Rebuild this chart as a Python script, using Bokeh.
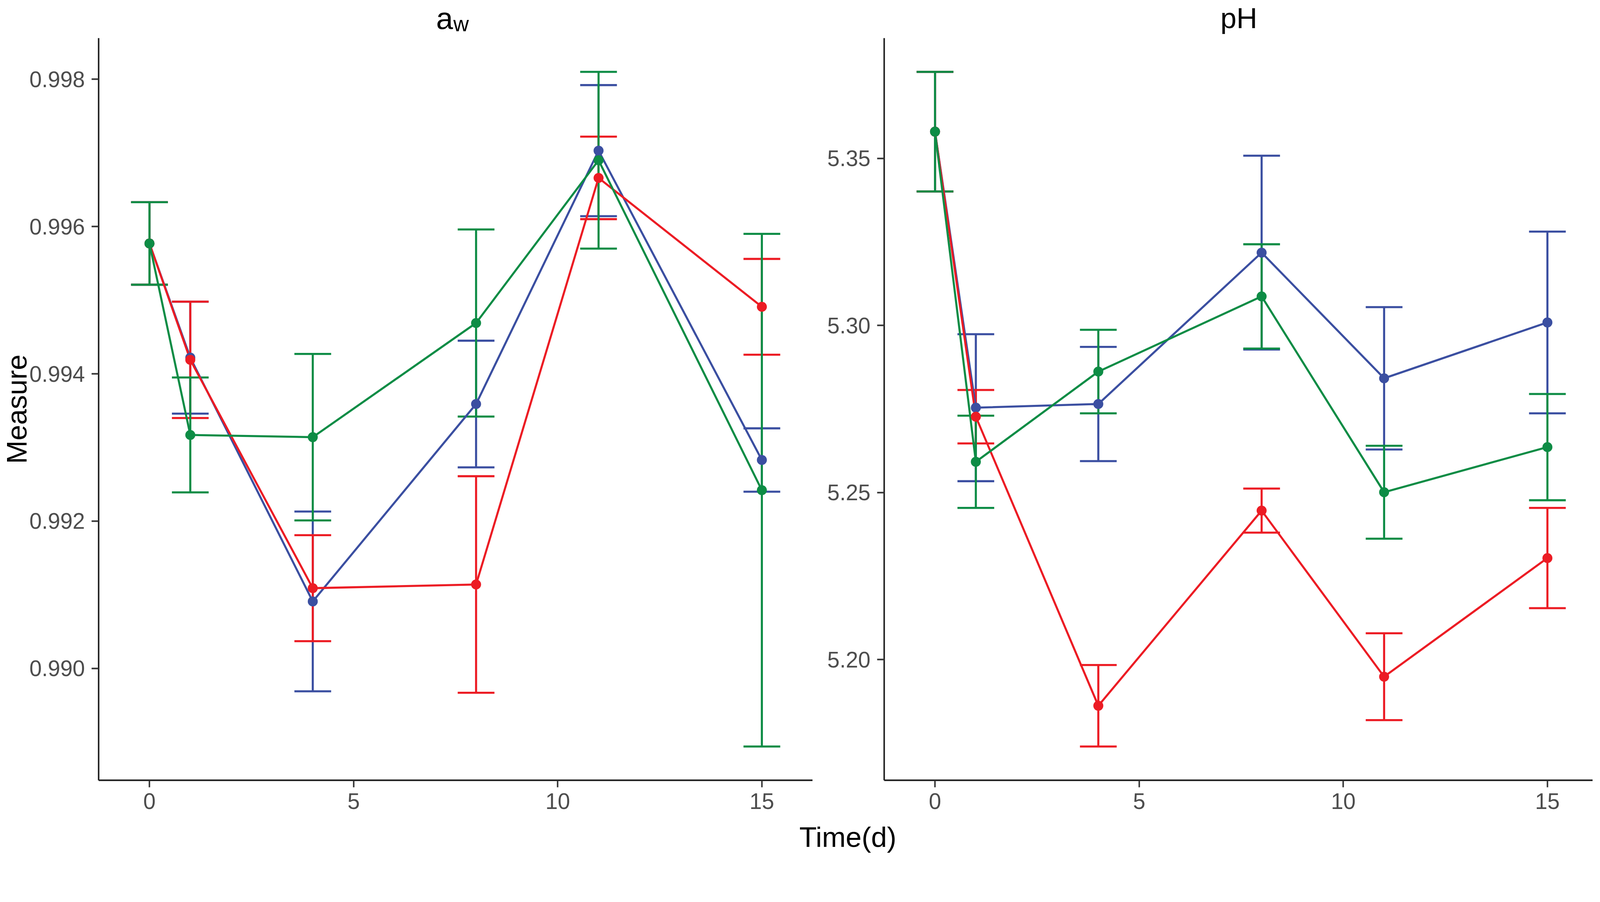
from bokeh.plotting import figure
from bokeh.models import Range1d, FixedTicker, PrintfTickFormatter
from bokeh.core.properties import value
from bokeh.layouts import row, column
from bokeh.embed import file_html
from bokeh.resources import INLINE

# ---------------- data ----------------
time_d = [0, 1, 4, 8, 11, 15]

aw_blue_mean = [0.99577, 0.99422, 0.99091, 0.99359, 0.99703, 0.99283]
aw_blue_sd = [0.00056, 0.00076, 0.00122, 0.00086, 0.00089, 0.00043]
aw_red_mean = [0.99577, 0.99419, 0.99109, 0.99114, 0.99666, 0.99491]
aw_red_sd = [0.00056, 0.00079, 0.00072, 0.00147, 0.00056, 0.00065]
aw_green_mean = [0.99577, 0.99317, 0.99314, 0.99469, 0.99690, 0.99242]
aw_green_sd = [0.00056, 0.00078, 0.00113, 0.00127, 0.00120, 0.00348]

ph_blue_mean = [5.3580, 5.2754, 5.2765, 5.3218, 5.2842, 5.3009]
ph_blue_sd = [0.0179, 0.0220, 0.0171, 0.0290, 0.0213, 0.0272]
ph_red_mean = [5.3580, 5.2727, 5.1862, 5.2446, 5.1949, 5.2304]
ph_red_sd = [0.0179, 0.0080, 0.0122, 0.0066, 0.0130, 0.0150]
ph_green_mean = [5.3580, 5.2592, 5.2862, 5.3087, 5.2501, 5.2636]
ph_green_sd = [0.0179, 0.0138, 0.0125, 0.0156, 0.0139, 0.0159]

x_ticks = [0, 5, 10, 15]
aw_ticks = [0.990, 0.992, 0.994, 0.996, 0.998]
ph_ticks = [5.20, 5.25, 5.30, 5.35]

x_label = "Time(d)"
y_label = "Measure"

# ---------------- style ----------------
S = 0.948  # global scale of the layout


def px(v):
    return int(round(v * S))


def fs(v):
    return "%.1fpx" % (v * S)


COLORS = {"blue": "#3B4FA1", "red": "#EC1C24", "green": "#0D8C45"}
FONT = "Liberation Sans"
CAP = 0.45          # half width of errorbar caps (ggplot width 0.9)
LW = 5.6 * S
PT = 27 * S

FRAME_W = px(1928)
FRAME_H = px(2003)
LEFT_B = px(266)
GAP_B = px(193)
TOP_B = px(102)
BOT_B = 98
RIGHT_FRAME_W = px(1914)
XLAB_H = 110

# x range like ggplot (5% expansion incl. errorbar widths)
xmin, xmax = min(time_d) - CAP, max(time_d) + CAP
xpad = 0.05 * (xmax - xmin)
x0, x1 = xmin - xpad, xmax + xpad


def yrange(series):
    lo = min(m - s for ms, ss in series for m, s in zip(ms, ss))
    hi = max(m + s for ms, ss in series for m, s in zip(ms, ss))
    pad = 0.05 * (hi - lo)
    return lo - pad, hi + pad


def style_axes(p, yticks, yfmt):
    p.xaxis.ticker = FixedTicker(ticks=x_ticks)
    p.yaxis.ticker = FixedTicker(ticks=yticks)
    p.yaxis.formatter = PrintfTickFormatter(format=yfmt)
    for ax in (p.xaxis[0], p.yaxis[0]):
        ax.axis_line_color = "#1A1A1A"
        ax.axis_line_width = 4 * S
        ax.major_tick_line_color = "#333333"
        ax.major_tick_line_width = 4 * S
        ax.major_tick_out = px(19)
        ax.major_tick_in = 0
        ax.minor_tick_line_color = None
        ax.major_label_text_font = FONT
        ax.major_label_text_font_size = fs(60)
        ax.major_label_text_color = "#4D4D4D"
    p.xaxis.major_label_standoff = px(16)
    p.yaxis.major_label_standoff = px(18)
    p.xgrid.grid_line_color = None
    p.ygrid.grid_line_color = None
    p.outline_line_color = None


def draw_series(p, groups):
    for name, means, sds in groups:
        c = COLORS[name]
        lo = [m - s for m, s in zip(means, sds)]
        hi = [m + s for m, s in zip(means, sds)]
        p.segment(x0=time_d, y0=lo, x1=time_d, y1=hi, line_color=c, line_width=LW)
        p.segment(x0=[t - CAP for t in time_d], y0=hi, x1=[t + CAP for t in time_d], y1=hi,
                  line_color=c, line_width=LW)
        p.segment(x0=[t - CAP for t in time_d], y0=lo, x1=[t + CAP for t in time_d], y1=lo,
                  line_color=c, line_width=LW)
    for name, means, sds in groups:
        p.line(time_d, means, line_color=COLORS[name], line_width=LW)
    for name, means, sds in groups:
        p.scatter(time_d, means, size=PT, marker="circle", fill_color=COLORS[name],
                  line_color=None)


def blank(w, h):
    f = figure(width=w, height=h, x_range=Range1d(0, w), y_range=Range1d(0, h),
               title=None, min_border=0, min_border_left=0, min_border_right=0,
               min_border_top=0, min_border_bottom=0,
               toolbar_location=None, output_backend="svg",
               x_axis_location=None, y_axis_location=None)
    f.xgrid.grid_line_color = None
    f.ygrid.grid_line_color = None
    f.outline_line_color = None
    f.background_fill_color = None
    f.border_fill_color = None
    return f


aw_groups = [("blue", aw_blue_mean, aw_blue_sd), ("red", aw_red_mean, aw_red_sd),
             ("green", aw_green_mean, aw_green_sd)]
ph_groups = [("blue", ph_blue_mean, ph_blue_sd), ("red", ph_red_mean, ph_red_sd),
             ("green", ph_green_mean, ph_green_sd)]

PANEL_H = FRAME_H + BOT_B

# ---------------- left panel (a_w) ----------------
ay0, ay1 = yrange([(m, s) for _, m, s in aw_groups])
p1 = figure(width=LEFT_B + FRAME_W, height=PANEL_H, title=None,
            x_range=Range1d(x0, x1), y_range=Range1d(ay0, ay1),
            min_border_left=LEFT_B, min_border_right=0, min_border_top=0,
            min_border_bottom=BOT_B, toolbar_location=None, output_backend="svg")
style_axes(p1, aw_ticks, "%.3f")
p1.yaxis.axis_label = y_label
p1.yaxis.axis_label_text_font = FONT
p1.yaxis.axis_label_text_font_size = fs(76)
p1.yaxis.axis_label_text_font_style = "normal"
p1.yaxis.axis_label_text_color = "#000000"
p1.yaxis.axis_label_standoff = -px(12)
draw_series(p1, aw_groups)

# ---------------- right panel (pH) ----------------
py0, py1 = yrange([(m, s) for _, m, s in ph_groups])
rx1 = x0 + (x1 - x0) * RIGHT_FRAME_W / FRAME_W
p2 = figure(width=GAP_B + RIGHT_FRAME_W, height=PANEL_H, title=None,
            x_range=Range1d(x0, rx1), y_range=Range1d(py0, py1),
            min_border_left=GAP_B, min_border_right=0, min_border_top=0,
            min_border_bottom=BOT_B, toolbar_location=None, output_backend="svg")
style_axes(p2, ph_ticks, "%.2f")
draw_series(p2, ph_groups)

TOTAL_W = LEFT_B + FRAME_W + GAP_B + RIGHT_FRAME_W

# ---------------- strip with panel titles ----------------
top = blank(TOTAL_W, TOP_B)
left_frame_x = LEFT_B
right_frame_x = left_frame_x + FRAME_W + GAP_B
TITLE_BASE = 46          # from the top of the strip
top.text(x=[left_frame_x + px(911)], y=[TOP_B - TITLE_BASE], text=["a"],
         text_font=value(FONT), text_font_size=fs(82), text_color="#000000",
         text_align="left", text_baseline="alphabetic")
top.text(x=[left_frame_x + px(958)], y=[TOP_B - TITLE_BASE - 14], text=["w"],
         text_font=value(FONT), text_font_size=fs(58), text_color="#000000",
         text_align="left", text_baseline="alphabetic")
top.text(x=[right_frame_x + px(958)], y=[TOP_B - TITLE_BASE], text=["pH"],
         text_font=value(FONT), text_font_size=fs(78), text_color="#000000",
         text_align="center", text_baseline="alphabetic")

# ---------------- strip with x label ----------------
xlab = blank(TOTAL_W, XLAB_H)
xlab.text(x=[px(2289)], y=[63.5], text=[x_label],
          text_font=value(FONT), text_font_size=fs(77), text_color="#000000",
          text_align="center", text_baseline="alphabetic")

layout = column(top, row(p1, p2), xlab)
open("out.html", "w").write(file_html(layout, INLINE))
